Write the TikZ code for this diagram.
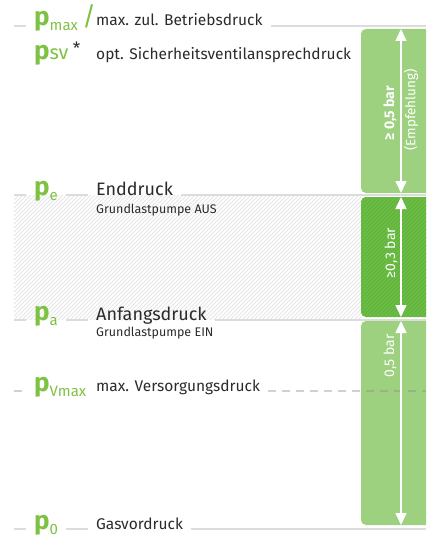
\documentclass[tikz,border=0pt]{standalone}
\usepackage{fontspec}
\setmainfont{Fira Sans}
\usetikzlibrary{arrows.meta}
\definecolor{pgreen}{HTML}{7DC242}
\definecolor{barlight}{HTML}{9DD17F}
\definecolor{bardark}{HTML}{6CBD45}
\definecolor{hatchdark}{HTML}{62B13D}
\definecolor{lvlgray}{HTML}{DCDCDC}
\definecolor{hatchgray}{HTML}{E6E6E6}
\definecolor{txt}{HTML}{2B2B2B}
\newcommand{\psub}[1]{\raisebox{-5pt}{\fontsize{15}{15}\selectfont\mdseries #1}}
\tikzset{
  lvl/.style={draw=lvlgray, line width=1.8pt},
  lvldash/.style={draw=black!45, draw opacity=.4, line width=1.8pt, dash pattern=on 8pt off 6pt},
  sym/.style={anchor=base west, inner xsep=8pt, inner ysep=0pt, text=pgreen, font=\fontsize{26}{26}\selectfont\bfseries},
  desc/.style={anchor=base west, inner xsep=8pt, inner ysep=0pt, text=txt, font=\fontsize{15.5}{17}\selectfont},
  title/.style={desc, font=\fontsize{18}{20}\selectfont},
  sub/.style={anchor=base west, inner sep=0pt, text=txt, font=\fontsize{12.5}{14}\selectfont},
  bar/.style={fill=barlight, rounded corners=5pt},
  span/.style={draw=white, line width=1.5pt, {Triangle[width=11pt,length=12pt]}-{Triangle[width=11pt,length=12pt]}},
  barlbl/.style={rotate=90, inner sep=0pt, text=white, font=\fontsize{14}{15}\selectfont},
}
\begin{document}
\begin{tikzpicture}[x=1pt, y=-1pt, line join=round, line cap=butt]
\def\xl{14} \def\xr{426} \def\xb{361} \def\xa{401}
\def\ymax{26} \def\ysv{60} \def\ye{195} \def\ya{320} \def\yv{391} \def\yo{529}
\useasboundingbox (0,0) rectangle (426,540);
\clip (0,0) rectangle (426,540);
% schraffur zwischen pe und pa
\begin{scope}
\clip (\xl,\ye) rectangle (\xb,\ya);
\foreach \i in {-130,-126,...,370} \draw[hatchgray, line width=0.8pt] (\i,\ya)--(\i+130,\ya-130);
\end{scope}
% level lines
\coordinate (lmax) at (\xl,\ymax); \coordinate (rmax) at (\xr,\ymax);
\coordinate (le) at (\xl,\ye);     \coordinate (re) at (\xr,\ye);
\coordinate (la) at (\xl,\ya);     \coordinate (ra) at (\xr,\ya);
\coordinate (lv) at (\xl,\yv);     \coordinate (rv) at (\xr,\yv);
\coordinate (lo) at (\xl,\yo);     \coordinate (ro) at (\xr,\yo);
\node[sym] (pmax) at (26,\ymax) {p\psub{max}\,{\mdseries /}};
\node[desc] (tmax) at (88,\ymax) {max. zul. Betriebsdruck};
\node[sym] (psv) at (26,\ysv) {p{\fontsize{20}{20}\selectfont\mdseries sv}\,\raisebox{5pt}{\color{txt}\fontsize{17}{17}\selectfont\mdseries *}};
\node[desc] (tsv) at (88,\ysv) {opt. Sicherheitsventilansprechdruck};
\node[sym] (pe) at (26,\ye) {p\psub{e}};
\node[title] (te) at (88,\ye) {Enddruck};
\node[sub] (se) at (96,\ye+18) {Grundlastpumpe AUS};
\node[sym] (pa) at (26,\ya) {p\psub{a}};
\node[title] (ta) at (88,\ya) {Anfangsdruck};
\node[sub] (sa) at (96,\ya+16) {Grundlastpumpe EIN};
\node[sym] (pv) at (26,\yv) {p\psub{Vmax}};
\node[desc] (tv) at (88,\yv) {max. Versorgungsdruck};
\node[sym] (po) at (26,\yo) {p\psub{0}};
\node[desc] (to) at (88,\yo) {Gasvordruck};
\draw[lvl] (lmax)--(lmax-|pmax.west) (rmax-|tmax.east)--(rmax);
\draw[lvl] (le)--(le-|pe.west) (le-|pe.east)--(le-|te.west) (le-|te.east)--(re);
\draw[lvl] (la)--(la-|pa.west) (la-|pa.east)--(la-|ta.west) (la-|ta.east)--(ra);
\draw[lvl] (lo)--(lo-|po.west) (lo-|po.east)--(lo-|to.west) (lo-|to.east)--(ro);
% bars
\path[bar] (\xb,29) rectangle (440,193);
\path[bar, fill=bardark] (\xb,197) rectangle (440,317);
\begin{scope}
\clip[rounded corners=5pt] (\xb,197) rectangle (440,317);
\foreach \i in {230,234,...,450} \draw[hatchdark, line width=0.8pt] (\i,317)--(\i+120,197);
\end{scope}
\path[bar] (\xb,321) rectangle (440,525);
\draw[lvldash] (lv)--(lv-|pv.west) (rv-|tv.east)--(rv);
% spans
\coordinate (s1t) at (\xa,29);  \coordinate (s1b) at (\xa,193);
\coordinate (s2t) at (\xa,197); \coordinate (s2b) at (\xa,317);
\coordinate (s3t) at (\xa,321); \coordinate (s3b) at (\xa,525);
\draw[span] (s1t)--(s1b);
\draw[span] (s2t)--(s2b);
\draw[span] (s3t)--(s3b);
\node[barlbl, font=\fontsize{14}{15}\selectfont\bfseries] (b1) at (390,113) {≥ 0,5 bar};
\node[barlbl, font=\fontsize{13.5}{15}\selectfont] (b1e) at (411,110) {(Empfehlung)};
\node[barlbl] (b2) at (391,253) {≥0,3 bar};
\node[barlbl] (b3) at (390,356) {0,5 bar};
\end{tikzpicture}
\end{document}
